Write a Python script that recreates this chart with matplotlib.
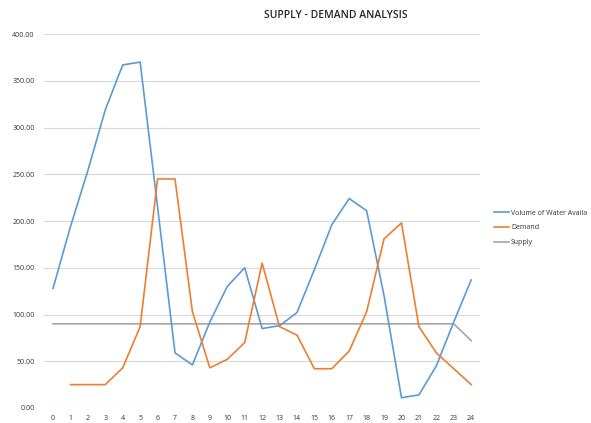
import matplotlib
matplotlib.use("Agg")
import matplotlib.pyplot as plt
from matplotlib.ticker import FormatStrFormatter

hours = list(range(25))
volume = [128, 194, 254, 319, 367, 370, 215, 59, 46, 92, 130, 150, 85, 88, 102,
          148, 196, 224, 211, 120, 11, 14, 45, 92, 137]
demand_hours = list(range(1, 25))
demand = [25, 25, 25, 43, 87, 245, 245, 103, 43, 52, 70, 155, 87, 78, 42, 42,
          61, 103, 181, 198, 87, 59, 42, 25]
supply = [90] * 24 + [72]

plt.rcParams['font.family'] = ['Open Sans', 'DejaVu Sans']

fig = plt.figure(figsize=(5.91, 4.23), dpi=100)
ax = fig.add_axes([0.075, 0.0355, 0.737, 0.884])

ax.plot(hours, volume, color='#5B9BD5', lw=1.2, label='Volume of Water Availa', zorder=3)
ax.plot(demand_hours, demand, color='#ED7D31', lw=1.2, label='Demand', zorder=3)
ax.plot(hours, supply, color='#A5A5A5', lw=1.2, label='Supply', zorder=2)

ax.set_xlim(-0.5, 24.5)
ax.set_ylim(0, 400)
ax.set_yticks(range(0, 401, 50))
ax.yaxis.set_major_formatter(FormatStrFormatter('%.2f'))
ax.set_xticks(hours)
ax.grid(axis='y', color='#D9D9D9', lw=0.8, zorder=0)
ax.set_axisbelow(True)
for s in ax.spines.values():
    s.set_visible(False)
ax.tick_params(axis='both', length=0, labelsize=5, colors='#333333')
ax.tick_params(axis='y', pad=7)
ax.tick_params(axis='x', pad=5)

fig.text(336 / 591, 1 - 15 / 423, 'SUPPLY - DEMAND ANALYSIS', ha='center', va='center',
         fontsize=7.5, color='#262626', fontweight='semibold')

leg = ax.legend(loc='upper left', bbox_to_anchor=(491 / 591, 1 - 207 / 423),
                bbox_transform=fig.transFigure, frameon=False, fontsize=5,
                handlelength=2.2, handletextpad=0.3, labelspacing=1.1, borderaxespad=0)
for t in leg.get_texts():
    t.set_color('#333333')

fig.savefig('out.png', dpi=100)
